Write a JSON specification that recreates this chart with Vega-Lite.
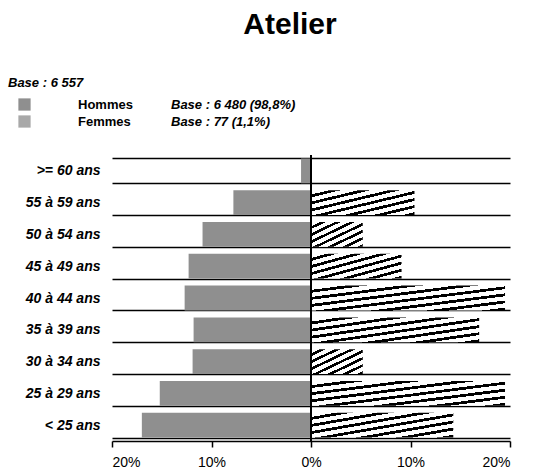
{
  "$schema": "https://vega.github.io/schema/vega-lite/v6.json",
  "width": 398,
  "height": 286,
  "autosize": "none",
  "padding": {"left": 112, "top": 155, "right": 43, "bottom": 33},
  "background": "white",
  "view": {"stroke": null},
  "title": {
    "text": "Atelier",
    "font": "Liberation Sans",
    "fontSize": 30,
    "fontWeight": "bold",
    "color": "black",
    "anchor": "middle",
    "frame": "group",
    "dx": -21,
    "offset": 37
  },
  "data": {
    "values": [
      {"age": ">= 60 ans", "sexe": "Hommes", "base": "Base : 6 480 (98,8%)", "pct": -1.0},
      {"age": "55 à 59 ans", "sexe": "Hommes", "base": "Base : 6 480 (98,8%)", "pct": -7.8},
      {"age": "50 à 54 ans", "sexe": "Hommes", "base": "Base : 6 480 (98,8%)", "pct": -10.9},
      {"age": "45 à 49 ans", "sexe": "Hommes", "base": "Base : 6 480 (98,8%)", "pct": -12.3},
      {"age": "40 à 44 ans", "sexe": "Hommes", "base": "Base : 6 480 (98,8%)", "pct": -12.7},
      {"age": "35 à 39 ans", "sexe": "Hommes", "base": "Base : 6 480 (98,8%)", "pct": -11.8},
      {"age": "30 à 34 ans", "sexe": "Hommes", "base": "Base : 6 480 (98,8%)", "pct": -11.9},
      {"age": "25 à 29 ans", "sexe": "Hommes", "base": "Base : 6 480 (98,8%)", "pct": -15.2},
      {"age": "< 25 ans", "sexe": "Hommes", "base": "Base : 6 480 (98,8%)", "pct": -17.0},
      {"age": ">= 60 ans", "sexe": "Femmes", "base": "Base : 77 (1,1%)", "pct": 0},
      {"age": "55 à 59 ans", "sexe": "Femmes", "base": "Base : 77 (1,1%)", "pct": 10.4},
      {"age": "50 à 54 ans", "sexe": "Femmes", "base": "Base : 77 (1,1%)", "pct": 5.2},
      {"age": "45 à 49 ans", "sexe": "Femmes", "base": "Base : 77 (1,1%)", "pct": 9.1},
      {"age": "40 à 44 ans", "sexe": "Femmes", "base": "Base : 77 (1,1%)", "pct": 19.5},
      {"age": "35 à 39 ans", "sexe": "Femmes", "base": "Base : 77 (1,1%)", "pct": 16.9},
      {"age": "30 à 34 ans", "sexe": "Femmes", "base": "Base : 77 (1,1%)", "pct": 5.2},
      {"age": "25 à 29 ans", "sexe": "Femmes", "base": "Base : 77 (1,1%)", "pct": 19.5},
      {"age": "< 25 ans", "sexe": "Femmes", "base": "Base : 77 (1,1%)", "pct": 14.3}
    ]
  },
  "layer": [
    {
      "mark": {"type": "bar", "strokeWidth": 0},
      "encoding": {
        "y": {
          "field": "age",
          "type": "nominal",
          "sort": [">= 60 ans", "55 à 59 ans", "50 à 54 ans", "45 à 49 ans", "40 à 44 ans", "35 à 39 ans", "30 à 34 ans", "25 à 29 ans", "< 25 ans"],
          "scale": {"paddingInner": 0.22, "paddingOuter": 0.11},
          "axis": {
            "title": null,
            "ticks": false,
            "domain": false,
            "grid": true,
            "tickBand": "extent",
            "gridColor": "black",
            "gridWidth": 1.5,
            "gridOpacity": 1,
            "labelFont": "Liberation Sans",
            "labelFontSize": 14,
            "labelFontWeight": "bold",
            "labelFontStyle": "italic",
            "labelColor": "black",
            "labelPadding": 12
          }
        },
        "x": {
          "field": "pct",
          "type": "quantitative",
          "stack": null,
          "scale": {"domain": [-20, 20], "nice": false},
          "axis": {
            "title": null,
            "grid": false,
            "values": [-20, -10, 0, 10, 20],
            "labelExpr": "abs(datum.value) + '%'",
            "domainColor": "black",
            "domainWidth": 1.5,
            "tickColor": "black",
            "tickWidth": 1.5,
            "tickSize": 6,
            "labelFont": "Liberation Sans",
            "labelFontSize": 14,
            "labelColor": "black",
            "labelPadding": 8
          }
        },
        "fill": {
          "field": "sexe",
          "type": "nominal",
          "condition": {
            "test": "datum.sexe === 'Femmes'",
            "value": {
              "gradient": "linear",
              "x1": 0, "y1": 0, "x2": 1, "y2": 1,
              "stops": [
                {"offset": 0, "color": "white"}, {"offset": 0.086, "color": "white"}, {"offset": 0.086, "color": "black"}, {"offset": 0.143, "color": "black"},
                {"offset": 0.143, "color": "white"}, {"offset": 0.229, "color": "white"}, {"offset": 0.229, "color": "black"}, {"offset": 0.286, "color": "black"},
                {"offset": 0.286, "color": "white"}, {"offset": 0.372, "color": "white"}, {"offset": 0.372, "color": "black"}, {"offset": 0.429, "color": "black"},
                {"offset": 0.429, "color": "white"}, {"offset": 0.515, "color": "white"}, {"offset": 0.515, "color": "black"}, {"offset": 0.571, "color": "black"},
                {"offset": 0.571, "color": "white"}, {"offset": 0.657, "color": "white"}, {"offset": 0.657, "color": "black"}, {"offset": 0.714, "color": "black"},
                {"offset": 0.714, "color": "white"}, {"offset": 0.8, "color": "white"}, {"offset": 0.8, "color": "black"}, {"offset": 0.857, "color": "black"},
                {"offset": 0.857, "color": "white"}, {"offset": 0.943, "color": "white"}, {"offset": 0.943, "color": "black"}, {"offset": 1, "color": "black"}
              ]
            }
          },
          "scale": {
            "domain": ["Hommes", "Femmes"],
            "range": ["#8f8f8f", "#a8a8a8"]
          },
          "legend": {
            "orient": "none",
            "legendX": -104,
            "legendY": -78,
            "padding": 0,
            "title": "Base : 6 557",
            "titleFont": "Liberation Sans",
            "titleFontSize": 13,
            "titleFontWeight": "bold",
            "titleFontStyle": "italic",
            "titleColor": "black",
            "titlePadding": 8,
            "symbolType": "square",
            "symbolSize": 150,
            "symbolOffset": 10,
            "symbolStrokeWidth": 0,
            "labelFont": "Liberation Sans",
            "labelFontSize": 13,
            "labelFontWeight": "bold",
            "labelColor": "black",
            "labelOffset": 47,
            "rowPadding": 3,
            "encode": {
              "symbols": {
                "update": {
                  "fill": {
                    "signal": "datum.value === 'Femmes' ? {gradient: 'linear', x1: 0, y1: 0, x2: 1, y2: 1, stops: [{offset: 0, color: 'white'}, {offset: 0.15, color: 'white'}, {offset: 0.15, color: 'black'}, {offset: 0.25, color: 'black'}, {offset: 0.25, color: 'white'}, {offset: 0.4, color: 'white'}, {offset: 0.4, color: 'black'}, {offset: 0.5, color: 'black'}, {offset: 0.5, color: 'white'}, {offset: 0.65, color: 'white'}, {offset: 0.65, color: 'black'}, {offset: 0.75, color: 'black'}, {offset: 0.75, color: 'white'}, {offset: 0.9, color: 'white'}, {offset: 0.9, color: 'black'}, {offset: 1, color: 'black'}]} : '#8f8f8f'"
                  }
                }
              }
            }
          }
        },
        "strokeDash": {
          "field": "base",
          "type": "nominal",
          "scale": {
            "domain": ["Base : 6 480 (98,8%)", "Base : 77 (1,1%)"],
            "range": [[1, 0], [1, 0]]
          },
          "legend": {
            "orient": "none",
            "legendX": 45,
            "legendY": -57,
            "padding": 0,
            "title": null,
            "symbolSize": 150,
            "symbolOpacity": 0,
            "labelFont": "Liberation Sans",
            "labelFontSize": 13,
            "labelFontWeight": "bold",
            "labelFontStyle": "italic",
            "labelColor": "black",
            "labelOffset": 0,
            "rowPadding": 3
          }
        }
      }
    },
    {
      "mark": {"type": "rule", "color": "black", "strokeWidth": 1.5},
      "encoding": {"x": {"datum": 0}}
    }
  ]
}
